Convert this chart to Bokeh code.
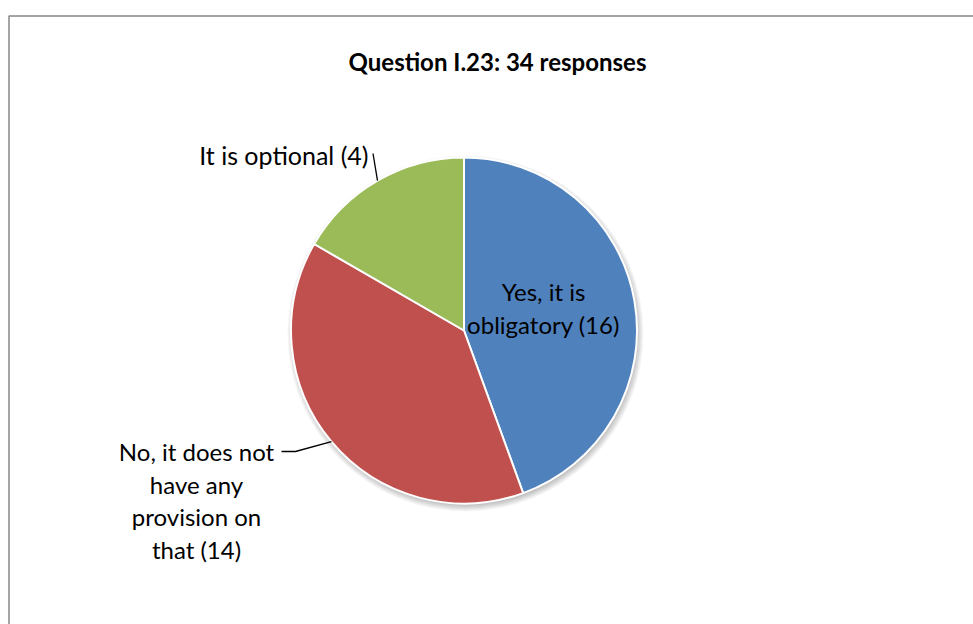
import numpy as np
from bokeh.plotting import figure
from bokeh.models import Range1d
from bokeh.core.properties import value
from bokeh.embed import file_html
from bokeh.resources import INLINE

# ---- data ----
title_text = "Question I.23: 34 responses"
categories = ["Yes, it is obligatory", "No, it does not have any provision on that", "It is optional"]
# slice sizes as drawn (angles measured on the picture: 160°, 140°, 60°)
slice_values = [16, 14, 6]
# label texts as printed on the chart
label_lines = [
    ["Yes, it is", "obligatory (16)"],
    ["No, it does not", "have any", "provision on", "that (14)"],
    ["It is optional (4)"],
]
colors = ["#4F81BD", "#C0504D", "#9BBB59"]

# ---- layout (page pixels -> data units, 1 unit = 1 px) ----
W, H = 973, 624
def X(px): return px
def Y(py): return H - py

cx, cy, R = X(463.5), Y(330), 173

p = figure(width=W, height=H, output_backend="svg", toolbar_location=None,
           x_range=Range1d(0, W), y_range=Range1d(0, H),
           x_axis_type=None, y_axis_type=None, min_border=0)
p.min_border_left = p.min_border_right = p.min_border_top = p.min_border_bottom = 0
p.grid.visible = False
p.outline_line_color = None
p.background_fill_color = "white"
p.border_fill_color = "white"

# chart border (left and top edges visible in the window)
p.line(x=[X(8.5), X(8.5), X(W + 5)], y=[Y(H + 5), Y(15.5), Y(15.5)],
       line_color="#878787", line_width=1.5)

# title
p.text(x=[X(497)], y=[Y(61)], text=[title_text], text_font=value("Lato"),
       text_font_style="bold", text_font_size="24px", text_align="center",
       text_baseline="alphabetic", text_color="black")

# soft shadow
for k in range(7):
    p.circle(x=[cx + 1.5], y=[cy - 3], radius=R + 5 - k, fill_color="black",
             fill_alpha=0.035, line_color=None)

# pie: starts at 12 o'clock, clockwise
vals = np.array(slice_values, dtype=float)
fr = vals / vals.sum()
cum = np.concatenate([[0], np.cumsum(fr)])
top = np.pi / 2
starts = top - cum[1:] * 2 * np.pi
ends = top - cum[:-1] * 2 * np.pi
p.wedge(x=cx, y=cy, radius=R, start_angle=starts, end_angle=ends,
        fill_color=colors, line_color="white", line_width=2)
mids = (starts + ends) / 2

font = value("Lato")
fs = "24px"
lh = 32.5

# Yes label (inside)
for i, t in enumerate(label_lines[0]):
    p.text(x=[X(543)], y=[Y(291 + i * lh)], text=[t], text_font=font, text_font_size=fs,
           text_align="center", text_baseline="alphabetic", text_color="black")

# No label (outside left)
for i, t in enumerate(label_lines[1]):
    p.text(x=[X(196)], y=[Y(451 + i * lh)], text=[t], text_font=font, text_font_size=fs,
           text_align="center", text_baseline="alphabetic", text_color="black")
ex, ey = cx + R * np.cos(mids[1]), cy + R * np.sin(mids[1])
p.line(x=[X(281), X(295), ex], y=[Y(451), Y(451), ey], line_color="black", line_width=1.3)

# Optional label (outside top-left)
for i, t in enumerate(label_lines[2]):
    p.text(x=[X(368)], y=[Y(154)], text=[t], text_font=font, text_font_size="25px",
           text_align="right", text_baseline="alphabetic", text_color="black")
ex, ey = cx + R * np.cos(mids[2]), cy + R * np.sin(mids[2])
p.line(x=[X(372.5), ex], y=[Y(153), ey], line_color="black", line_width=1.3)

open("out.html", "w").write(file_html(p, INLINE))
